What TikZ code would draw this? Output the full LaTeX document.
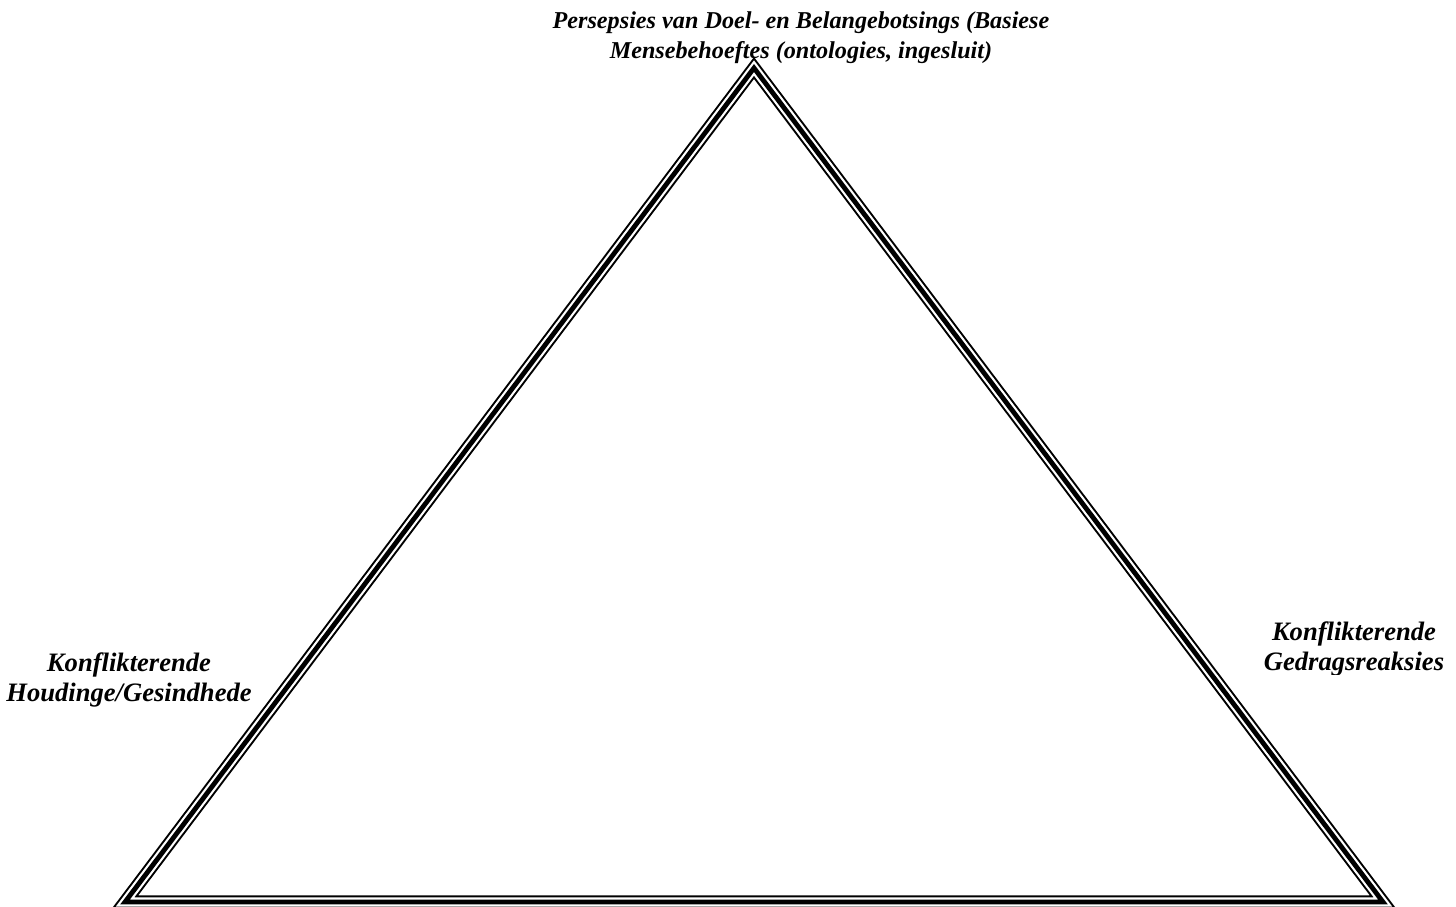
\documentclass[tikz,border=0pt]{standalone}
\usepackage{fontspec}
\setmainfont{Liberation Serif}
\begin{document}
\begin{tikzpicture}[x=0.5pt,y=-0.5pt,
  lbl/.style={font=\fontsize{12.1}{15}\selectfont\bfseries\itshape, align=center, inner sep=0pt},
  side/.style={lbl, font=\fontsize{13.3}{15.2}\selectfont\bfseries\itshape},
  tri/.style={line join=miter, miter limit=20}]
\useasboundingbox (0,0) rectangle (1456,906);
\node[lbl] (top) at (801,38) {Persepsies van Doel- en Belangebotsings (Basiese\\Mensebehoeftes (ontologies, ingesluit)};
\node[side] (left) at (129,680) {Konflikterende\\Houdinge/Gesindhede};
\begin{scope}
\clip (1200,600) rectangle (1456,674);
\node[side] (right) at (1354,649) {Konflikterende\\Gedragsreaksies};
\end{scope}
\coordinate (A) at (754,68);
\coordinate (B) at (125,902);
\coordinate (C) at (1383,902);
\draw[tri, line width=6.6pt] (A) -- (B) -- (C) -- cycle;
\draw[tri, white, line width=4.6pt] (A) -- (B) -- (C) -- cycle;
\draw[tri, line width=2.4pt] (A) -- (B) -- (C) -- cycle;
\end{tikzpicture}
\end{document}
